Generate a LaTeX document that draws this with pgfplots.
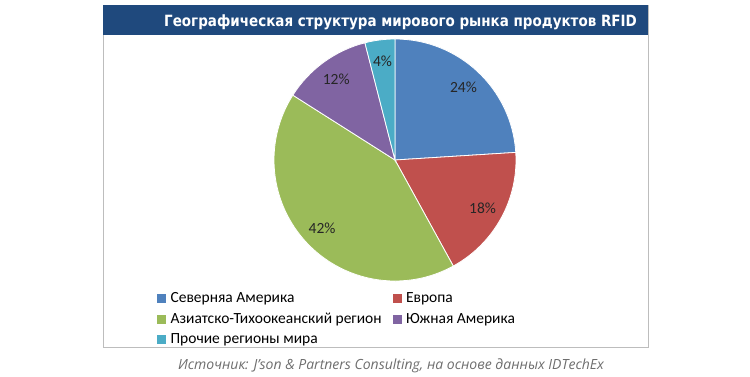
\documentclass[border=0pt]{standalone}
\usepackage{fontspec}
\usepackage{pgfplots}
\usepackage{pgfplotstable}
\pgfplotsset{compat=1.18}
\setmainfont{Carlito}
\newfontfamily\titlefont[FakeStretch=0.87]{DejaVu Sans}
\newfontfamily\capfont{Open Sans}
\definecolor{c0}{HTML}{4F81BD}
\definecolor{c1}{HTML}{C0504D}
\definecolor{c2}{HTML}{9BBB59}
\definecolor{c3}{HTML}{8064A2}
\definecolor{c4}{HTML}{4BACC6}
\definecolor{titleblue}{HTML}{1F497D}
\definecolor{framegray}{HTML}{BDBDBD}
\definecolor{capgray}{HTML}{6E6E6E}
\pgfplotstableread[col sep=comma]{
name,value
Северняа Америка,24
Европа,18
Азиатско-Тихоокеанский регион,42
Южная Америка,12
Прочие регионы мира,4
}\piedata
\begin{document}
\begin{tikzpicture}
\xdef\cum{0}
\foreach \i in {0,...,4}{
  \pgfplotstablegetelem{\i}{value}\of\piedata
  \let\v\pgfplotsretval
  \pgfmathsetmacro\s{90-3.6*\cum}
  \pgfmathsetmacro\e{\s-3.6*\v}
  \pgfmathsetmacro\m{(\s+\e)/2}
  \expandafter\xdef\csname pieS\i\endcsname{\s}
  \expandafter\xdef\csname pieE\i\endcsname{\e}
  \expandafter\xdef\csname pieM\i\endcsname{\m}
  \expandafter\xdef\csname pieV\i\endcsname{\v}
  \pgfmathsetmacro\c{\cum+\v}
  \xdef\cum{\c}
}
\begin{axis}[
  scale only axis, width=750pt, height=377pt,
  xmin=0, xmax=750, ymin=0, ymax=377,
  hide axis, clip=false,
  legend columns=2,
  legend cell align=left,
  legend style={at={(157/750,1-290/377)}, anchor=north west, draw=none, fill=none,
    inner sep=0pt, font=\fontsize{15.5}{18}\selectfont,
    /tikz/every odd column/.style={column sep=3pt},
    /tikz/column 2/.style={column sep=9pt},
    row sep=5pt},
]
\fill[white] (axis cs:0,0) rectangle (axis cs:750,377);
\draw[framegray] (axis cs:103,371.5) rectangle (axis cs:648,30);
\fill[titleblue] (axis cs:103,371.5) rectangle (axis cs:648,342);
\node[anchor=base east, text=white, font=\titlefont\bfseries\fontsize{15.5}{18}\selectfont, inner sep=0pt]
  at (axis cs:637,350) {Географическая структура мирового рынка продуктов RFID};
\pgfplotsinvokeforeach{0,...,4}{
  \fill[c#1, draw=white, line width=0.8pt] (axis cs:395,217) -- ++(\csname pieS#1\endcsname:121pt)
    arc[start angle=\csname pieS#1\endcsname, end angle=\csname pieE#1\endcsname, radius=121pt] -- cycle;
}
\pgfplotsinvokeforeach{0,...,4}{
  \path (axis cs:395,217) ++(\csname pieM#1\endcsname:100pt) node[font=\fontsize{15.5}{18}\selectfont, text=black!85] {\csname pieV#1\endcsname\%};
}
\addlegendimage{legend image code/.code={\fill[c0] (0pt,-4pt) rectangle (8pt,4pt);}}
\addlegendentry{Северняа Америка}
\addlegendimage{legend image code/.code={\fill[c1] (0pt,-4pt) rectangle (8pt,4pt);}}
\addlegendentry{Европа}
\addlegendimage{legend image code/.code={\fill[c2] (0pt,-4pt) rectangle (8pt,4pt);}}
\addlegendentry{Азиатско-Тихоокеанский регион}
\addlegendimage{legend image code/.code={\fill[c3] (0pt,-4pt) rectangle (8pt,4pt);}}
\addlegendentry{Южная Америка}
\addlegendimage{legend image code/.code={\fill[c4] (0pt,-4pt) rectangle (8pt,4pt);}}
\addlegendentry{Прочие регионы мира}
\node[font=\capfont\itshape\fontsize{14}{16}\selectfont, text=capgray] at (axis cs:391,11)
  {Источник: J’son \& Partners Consulting, на основе данных IDTechEx};
\end{axis}
\end{tikzpicture}
\end{document}
